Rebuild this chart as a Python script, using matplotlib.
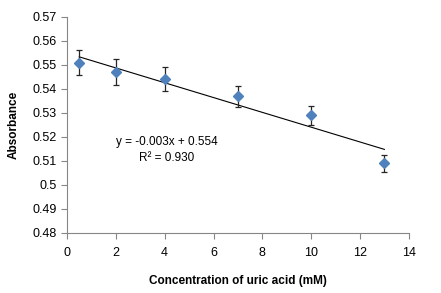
import numpy as np
import matplotlib
matplotlib.use("Agg")
import matplotlib.pyplot as plt

plt.rcParams['font.family'] = ['Liberation Sans', 'DejaVu Sans']

# concentration (mM) vs absorbance, with error bars
conc = [0.5, 2, 4, 7, 10, 13]
absorb = [0.551, 0.547, 0.544, 0.537, 0.529, 0.509]
err = [0.0052, 0.0055, 0.005, 0.0044, 0.004, 0.0036]

xticks = [0, 2, 4, 6, 8, 10, 12, 14]
yticks = [0.48, 0.49, 0.5, 0.51, 0.52, 0.53, 0.54, 0.55, 0.56, 0.57]
ytick_labels = ['0.48', '0.49', '0.5', '0.51', '0.52', '0.53', '0.54', '0.55', '0.56', '0.57']

fig = plt.figure(figsize=(4.41, 2.93), dpi=100)
ax = fig.add_axes([0.152, 0.205, 0.775, 0.737])

# linear trendline
k, b = np.polyfit(conc, absorb, 1)
xl = np.array([conc[0], conc[-1]])
ax.plot(xl, k * xl + b, color='black', lw=0.8, zorder=2)

ax.errorbar(conc, absorb, yerr=err, fmt='D', color='#4F81BD', ms=5.5,
            ecolor='#262626', elinewidth=0.9, capsize=2.5, capthick=0.9, zorder=3)

ax.text(4.07, 0.5179, 'y = -0.003x + 0.554', fontsize=8.5, ha='center', va='center')
ax.text(4.07, 0.5112, 'R² = 0.930', fontsize=8.5, ha='center', va='center')

ax.set_xlim(0, 14)
ax.set_ylim(0.48, 0.57)
ax.set_xticks(xticks)
ax.set_yticks(yticks)
ax.set_yticklabels(ytick_labels)
ax.tick_params(axis='both', labelsize=9, color='#868686', length=4, width=0.8)
ax.tick_params(axis='x', pad=6)
for s in ['top', 'right']:
    ax.spines[s].set_visible(False)
for s in ['left', 'bottom']:
    ax.spines[s].set_color('#868686')
    ax.spines[s].set_linewidth(0.8)

ax.set_xlabel('Concentration of uric acid (mM)', fontsize=8.5, fontweight='bold', labelpad=12)
ax.set_ylabel('Absorbance', fontsize=8.5, fontweight='bold', labelpad=9)

fig.savefig('out.png', dpi=100)
